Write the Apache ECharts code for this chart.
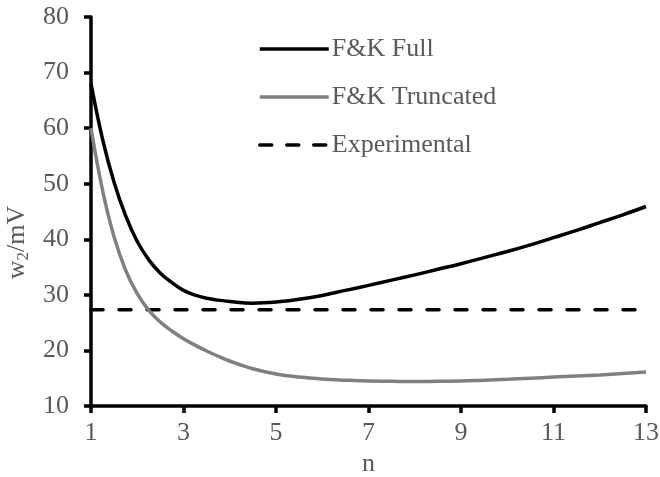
<!DOCTYPE html>
<html>
<head>
<meta charset="utf-8">
<script src="https://cdn.jsdelivr.net/npm/echarts@6/dist/echarts.min.js"></script>
<style>
html,body{margin:0;padding:0;background:#fff;}
#chart{width:660px;height:477px;}
</style>
</head>
<body>
<div id="chart"></div>
<script>
// Data
var nValues = [1, 1.25, 1.5, 1.75, 2, 2.25, 2.5, 2.75, 3, 3.25, 3.5, 3.75, 4, 4.5, 5, 5.5, 6, 6.5, 7, 7.5, 8, 8.5, 9, 9.5, 10, 10.5, 11, 11.5, 12, 12.5, 13];
var fullW = [68, 58.0, 50.2, 44.2, 39.6, 36.3, 33.9, 32.2, 30.8, 29.95, 29.4, 29.05, 28.8, 28.5, 28.7, 29.2, 29.9, 30.8, 31.7, 32.65, 33.6, 34.6, 35.6, 36.7, 37.8, 39.0, 40.3, 41.6, 43.0, 44.4, 45.9];
var truncW = [60, 48.8, 40.4, 34.4, 30.2, 27.2, 25.1, 23.5, 22.1, 20.95, 19.9, 18.95, 18.1, 16.7, 15.75, 15.2, 14.85, 14.65, 14.5, 14.45, 14.4, 14.45, 14.5, 14.65, 14.8, 15.0, 15.2, 15.4, 15.6, 15.85, 16.1];
var expN = [1, 13];
var expW = [27.3, 27.3];
var xTicks = [1, 3, 5, 7, 9, 11, 13];
var yTicks = [10, 20, 30, 40, 50, 60, 70, 80];
var seriesNames = ['F&K Full', 'F&K Truncated', 'Experimental'];

function pairs(xs, ys) { return xs.map(function (x, i) { return [x, ys[i]]; }); }

var FONT = "'Liberation Serif', 'Times New Roman', serif";
var TXT = '#595959';

var chart = echarts.init(document.getElementById('chart'), null, {renderer: 'canvas'});
chart.setOption({
  animation: false,
  backgroundColor: '#fff',
  textStyle: {fontFamily: FONT},
  grid: {left: 91, right: 14, top: 17, bottom: 71, containLabel: false, outerBoundsMode: 'none'},
  legend: {
    orient: 'vertical',
    left: 253,
    top: 31,
    itemWidth: 69,
    itemHeight: 26,
    itemGap: 22,
    data: [
      {name: seriesNames[0]},
      {name: seriesNames[1]},
      {name: seriesNames[2], lineStyle: {type: [12, 15], cap: 'round', width: 3.5, color: '#000'}}
    ],
    itemStyle: {opacity: 0},
    lineStyle: {width: 3.5},
    textStyle: {fontFamily: FONT, fontSize: 26, color: TXT, padding: [0, 0, 0, -2]}
  },
  xAxis: {
    type: 'value',
    min: xTicks[0],
    max: xTicks[xTicks.length - 1],
    interval: 2,
    name: 'n',
    nameLocation: 'middle',
    nameGap: 44,
    nameTextStyle: {fontFamily: FONT, fontSize: 26, color: TXT},
    axisLine: {show: true, onZero: false, lineStyle: {color: '#000', width: 3.5}},
    axisTick: {show: true, inside: false, length: 7, lineStyle: {color: '#000', width: 3.5}},
    axisLabel: {fontFamily: FONT, fontSize: 26, color: TXT, margin: 14},
    splitLine: {show: false}
  },
  yAxis: {
    type: 'value',
    min: yTicks[0],
    max: yTicks[yTicks.length - 1],
    interval: 10,
    name: '{a|w}{s|2}{a|/mV}',
    nameLocation: 'middle',
    nameGap: 59,
    nameRotate: 90,
    nameTextStyle: {
      fontFamily: FONT, fontSize: 26, color: TXT,
      padding: [0, 62, 0, 0],
      rich: {
        a: {fontFamily: FONT, fontSize: 26, color: TXT},
        s: {fontFamily: FONT, fontSize: 17, color: TXT, padding: [12, 0, 0, 0]}
      }
    },
    axisLine: {show: true, onZero: false, lineStyle: {color: '#000', width: 3.5}},
    axisTick: {show: true, inside: false, length: 7, lineStyle: {color: '#000', width: 3.5}},
    axisLabel: {fontFamily: FONT, fontSize: 26, color: TXT, margin: 22},
    splitLine: {show: false}
  },
  series: [
    {
      name: seriesNames[0], type: 'line', smooth: 0.4, symbol: 'none',
      data: pairs(nValues, fullW),
      lineStyle: {color: '#000', width: 3.5},
      itemStyle: {color: '#000'}, z: 3
    },
    {
      name: seriesNames[1], type: 'line', smooth: 0.4, symbol: 'none',
      data: pairs(nValues, truncW),
      lineStyle: {color: '#808080', width: 3.5},
      itemStyle: {color: '#808080'}, z: 2
    },
    {
      name: seriesNames[2], type: 'line', symbol: 'none',
      data: pairs(expN, expW),
      lineStyle: {color: '#000', width: 3.5, type: [12, 16], cap: 'round'},
      itemStyle: {color: '#000'}, z: 1
    }
  ]
});
</script>
</body>
</html>
